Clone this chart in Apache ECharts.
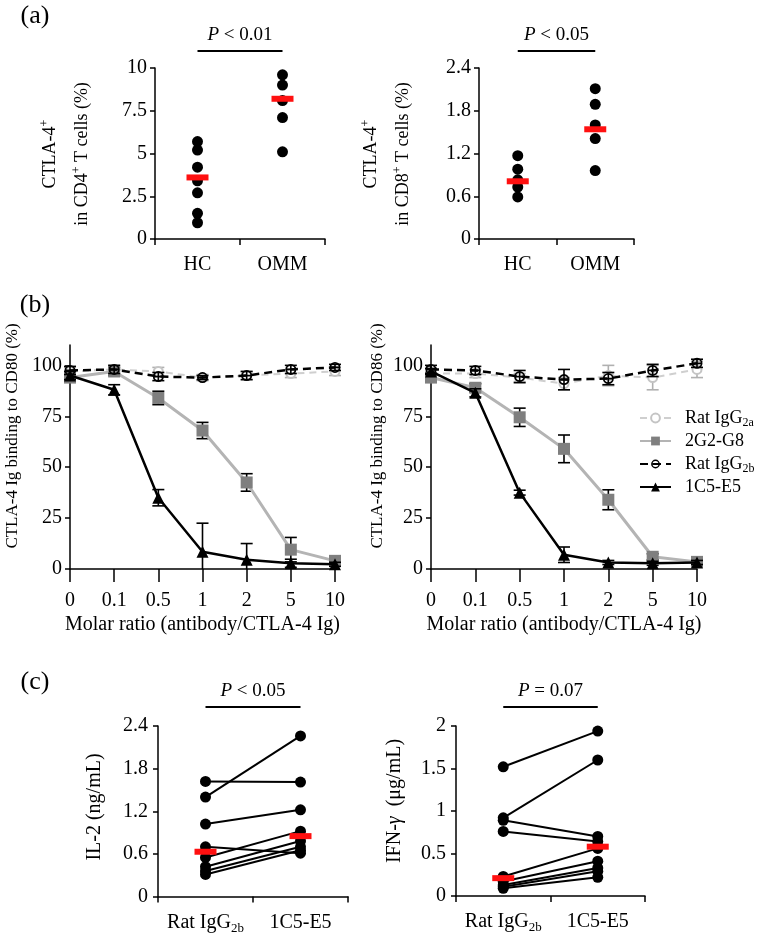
<!DOCTYPE html>
<html>
<head>
<meta charset="utf-8">
<script src="https://cdn.jsdelivr.net/npm/echarts@6/dist/echarts.min.js"></script>
<style>
  html, body { margin: 0; padding: 0; background: #fff; }
  #chart { width: 759px; height: 935px; }
</style>
</head>
<body>
<div id="chart"></div>
<script>
// (a) CTLA-4+ cells, healthy controls vs OMM
const groupsA = ["HC", "OMM"];
const cd4HC = [5.7, 5.2, 4.2, 3.4, 2.7, 1.5, 0.95];
const cd4OMM = [9.6, 9.0, 8.1, 7.1, 5.1];
const cd4Mean = [3.6, 8.2];
const cd8HC = [1.17, 0.98, 0.83, 0.73, 0.59];
const cd8OMM = [2.11, 1.89, 1.6, 1.41, 0.96];
const cd8Mean = [0.81, 1.54];
const ticksCD4 = [0, 2.5, 5, 7.5, 10];
const ticksCD8 = [0, 0.6, 1.2, 1.8, 2.4];

// (b) blocking of CTLA-4 Ig binding
const ratios = ["0", "0.1", "0.5", "1", "2", "5", "10"];
const ticksB = [0, 25, 50, 75, 100];
const ratA80 = [97, 98, 97, 94, 95, 96, 97];
const ratA80Err = [2, 2, 2, 1.5, 2, 2, 2];
const g2g8_80 = [94, 97, 84, 68, 42.5, 9.5, 4];
const g2g8_80Err = [1.5, 2, 3.3, 4, 4.3, 6, 1.5];
const ratB80 = [97.5, 98, 94.5, 94, 95, 98, 99];
const ratB80Err = [2, 2, 2, 1, 2, 2, 1.5];
const c5_80 = [95, 88, 35, 8.5, 4.5, 2.8, 2.3];
const c5_80Err = [2, 2.5, 4, 14, 8, 2, 1];
const ratA86 = [96, 96, 94, 91, 95, 94, 98];
const ratA86Err = [2, 2, 2, 3, 5, 6, 4];
const g2g8_86 = [94, 89, 74.5, 59, 34, 6, 3.5];
const g2g8_86Err = [1.5, 2, 4.5, 6.8, 4.9, 1.5, 1];
const ratB86 = [98, 97.5, 94.5, 93, 93.5, 97.5, 101];
const ratB86Err = [2, 2, 3, 5, 3, 3, 2];
const c5_86 = [97, 86.5, 37.5, 7, 3.2, 2.8, 3.2];
const c5_86Err = [1.5, 2, 1.2, 3.8, 1, 1, 1];

// (c) cytokines, paired samples
const groupsC = ["Rat IgG2b", "1C5-E5"];
const il2Rat = [1.62, 1.40, 1.02, 0.70, 0.55, 0.42, 0.36, 0.31];
const il2C5 = [1.61, 2.26, 1.22, 0.61, 0.92, 0.78, 0.70, 0.65];
const il2Mean = [0.63, 0.85];
const ifnRat = [1.52, 0.92, 0.89, 0.76, 0.23, 0.17, 0.13, 0.11, 0.09];
const ifnC5 = [1.94, 1.60, 0.70, 0.64, 0.56, 0.41, 0.33, 0.29, 0.22];
const ifnMean = [0.21, 0.58];
const ticksIL2 = [0, 0.6, 1.2, 1.8, 2.4];
const ticksIFN = [0, 0.5, 1, 1.5, 2];

const FONT = "'Times New Roman', 'Liberation Serif', 'DejaVu Serif', serif";
const RED = "#ff1010";

const grids = [
  { left: 155, top: 68, width: 170, height: 171 },
  { left: 479, top: 68, width: 155, height: 171 },
  { left: 70, top: 345, width: 265, height: 224 },
  { left: 431, top: 345, width: 266, height: 224 },
  { left: 158, top: 726, width: 190, height: 171 },
  { left: 456, top: 726, width: 189, height: 170 },
];

const blackLine = { color: "#000", width: 1.5 };
const subRich = {
  s: { fontFamily: FONT, fontSize: 13, padding: [12, 0, 0, 0], color: "#000" },
};
const subFmt = (v) => v.replace(/IgG2([ab])/, "IgG{s|2$1}");

function yValue(i, ticks, margin, extra) {
  return Object.assign({
    type: "value", gridIndex: i,
    min: ticks[0], max: ticks[ticks.length - 1], interval: ticks[1] - ticks[0],
    splitLine: { show: false },
    axisLine: { show: true, lineStyle: blackLine },
    axisTick: { show: true, length: 5, lineStyle: blackLine },
    axisLabel: { color: "#000", fontFamily: FONT, fontSize: 20, margin: margin },
  }, extra || {});
}

function xCat(i, cats, margin, extra) {
  return Object.assign({
    type: "category", gridIndex: i, data: cats,
    axisLine: { show: true, lineStyle: blackLine },
    axisTick: { show: true, length: 6, lineStyle: blackLine },
    axisLabel: {
      color: "#000", fontFamily: FONT, fontSize: 20, margin: margin, interval: 0,
      lineHeight: 24, formatter: subFmt, rich: subRich,
    },
  }, extra || {});
}

const bName = {
  boundaryGap: false,
  axisTick: { show: true, length: 13, lineStyle: blackLine },
  name: "Molar ratio (antibody/CTLA-4 Ig)", nameLocation: "middle", nameGap: 46,
  nameTextStyle: { color: "#000", fontFamily: FONT, fontSize: 20 },
};
const xAxes = [
  xCat(0, groupsA, 14),
  xCat(1, groupsA, 14),
  xCat(2, ratios, 20, bName),
  xCat(3, ratios, 20, bName),
  xCat(4, groupsC, 14),
  xCat(5, groupsC, 14),
];

const bY = {
  max: 110,
  axisLabel: { color: "#000", fontFamily: FONT, fontSize: 20, margin: 8, customValues: ticksB },
  axisTick: { show: true, length: 5, lineStyle: blackLine, customValues: ticksB },
};
const yAxes = [
  yValue(0, ticksCD4, 8),
  yValue(1, ticksCD8, 8),
  yValue(2, ticksB, 8, bY),
  yValue(3, ticksB, 8, bY),
  yValue(4, ticksIL2, 10),
  yValue(5, ticksIFN, 10),
];

const series = [];

function dots(g, idx, vals) {
  series.push({
    type: "scatter", xAxisIndex: g, yAxisIndex: g,
    data: vals.map((v) => [idx, v]),
    symbol: "circle", symbolSize: 11,
    itemStyle: { color: "#000", opacity: 1 }, z: 3,
  });
}
function meanBars(g, means) {
  series.push({
    type: "scatter", xAxisIndex: g, yAxisIndex: g,
    data: means.map((v, i) => [i, v]),
    symbol: "rect", symbolSize: [22, 6],
    itemStyle: { color: RED, opacity: 1 }, z: 6,
  });
}

// (a)
dots(0, 0, cd4HC); dots(0, 1, cd4OMM); meanBars(0, cd4Mean);
dots(1, 0, cd8HC); dots(1, 1, cd8OMM); meanBars(1, cd8Mean);

// (b)
const ringMinus = "path://M0,-5A5,5,0,1,1,0,5A5,5,0,1,1,0,-5ZM0,-3.4A3.4,3.4,0,1,0,0,3.4A3.4,3.4,0,1,0,0,-3.4ZM-3.4,-0.8L3.4,-0.8L3.4,0.8L-3.4,0.8Z";
const styles = {
  "Rat IgG2a": { symbol: "emptyCircle", symbolSize: 9, color: "#c4c4c4", line: { color: "#cfcfcf", width: 2, type: [7, 5] }, err: "#b0b0b0", z: 2 },
  "2G2-G8": { symbol: "rect", symbolSize: 12, color: "#7f7f7f", line: { color: "#b4b4b4", width: 3 }, err: "#000", z: 3 },
  "Rat IgG2b": { symbol: ringMinus, symbolSize: 11, color: "#000", line: { color: "#000", width: 2.5, type: [8, 5] }, err: "#000", z: 4 },
  "1C5-E5": { symbol: "triangle", symbolSize: 12, color: "#000", line: { color: "#000", width: 2.5 }, err: "#000", z: 5 },
};

// error bars are cut off at the x axis, as in the original figure
function errRender(color) {
  return function (params, api) {
    const x = api.value(0);
    const lo = api.value(1);
    const top = api.coord([x, api.value(2)]);
    const bot = api.coord([x, Math.max(lo, 0)]);
    const w = 6;
    const st = { stroke: color, lineWidth: 1.6 };
    const kids = [
      { type: "line", shape: { x1: top[0], y1: top[1], x2: bot[0], y2: bot[1] }, style: st },
      { type: "line", shape: { x1: top[0] - w, y1: top[1], x2: top[0] + w, y2: top[1] }, style: st },
    ];
    if (lo > 0) {
      kids.push({ type: "line", shape: { x1: bot[0] - w, y1: bot[1], x2: bot[0] + w, y2: bot[1] }, style: st });
    }
    return { type: "group", children: kids };
  };
}

function curve(g, name, vals, errs) {
  const s = styles[name];
  series.push({
    type: "line", name: name, xAxisIndex: g, yAxisIndex: g,
    data: vals, symbol: s.symbol, symbolSize: s.symbolSize, showAllSymbol: true,
    lineStyle: s.line, itemStyle: { color: s.color, borderWidth: 1.5 },
    z: s.z,
  });
  series.push({
    type: "custom", xAxisIndex: g, yAxisIndex: g,
    data: vals.map((v, i) => [i, v - errs[i], v + errs[i]]),
    encode: { x: 0, y: [1, 2] },
    renderItem: errRender(s.err), z: s.z,
  });
}

curve(2, "Rat IgG2a", ratA80, ratA80Err);
curve(2, "2G2-G8", g2g8_80, g2g8_80Err);
curve(2, "Rat IgG2b", ratB80, ratB80Err);
curve(2, "1C5-E5", c5_80, c5_80Err);
curve(3, "Rat IgG2a", ratA86, ratA86Err);
curve(3, "2G2-G8", g2g8_86, g2g8_86Err);
curve(3, "Rat IgG2b", ratB86, ratB86Err);
curve(3, "1C5-E5", c5_86, c5_86Err);

// (c)
function pairs(g, left, right, means) {
  left.forEach((v, i) => {
    series.push({
      type: "line", xAxisIndex: g, yAxisIndex: g,
      data: [[0, v], [1, right[i]]],
      symbol: "circle", symbolSize: 11,
      lineStyle: { color: "#000", width: 2 }, itemStyle: { color: "#000" }, z: 3,
    });
  });
  meanBars(g, means);
}
pairs(4, il2Rat, il2C5, il2Mean);
pairs(5, ifnRat, ifnC5, ifnMean);

const option = {
  animation: false,
  backgroundColor: "#fff",
  grid: grids,
  xAxis: xAxes,
  yAxis: yAxes,
  legend: {
    data: ["Rat IgG2a", "2G2-G8", "Rat IgG2b", "1C5-E5"],
    orient: "vertical", left: 634, top: 402,
    itemWidth: 31, itemHeight: 11, itemGap: 1,
    formatter: subFmt,
    textStyle: {
      color: "#000", fontFamily: FONT, fontSize: 18, lineHeight: 22, padding: [0, 0, 0, 9],
      rich: { s: { fontFamily: FONT, fontSize: 12, padding: [10, 0, 0, 0], color: "#000" } },
    },
    selectedMode: false,
  },
  series: series,
};

const chart = echarts.init(document.getElementById("chart"));
chart.setOption(option);

// text annotations and significance brackets
const supRich = { p: { fontFamily: FONT, fontSize: 12, padding: [0, 0, 10, 0], fill: "#000" } };
function label(x, y, text, size, rot, extra) {
  return {
    type: "text", x: x, y: y, rotation: rot || 0, silent: true,
    style: Object.assign({
      text: text, fontFamily: FONT, fontSize: size, fill: "#000",
      align: "center", verticalAlign: "middle", rich: supRich,
    }, extra || {}),
  };
}

const R = Math.PI / 2;
const graphics = [
  label(35, 16, "(a)", 26),
  label(35, 305, "(b)", 26),
  label(35, 682, "(c)", 26),
  label(66, 154, "CTLA-4{p|+}\nin CD4{p|+} T cells (%)", 18, R, { lineHeight: 32 }),
  label(387, 154, "CTLA-4{p|+}\nin CD8{p|+} T cells (%)", 18, R, { lineHeight: 32 }),
  label(13, 436, "CTLA-4 Ig binding to CD80 (%)", 17, R),
  label(378, 436, "CTLA-4 Ig binding to CD86 (%)", 17, R),
  label(95, 807, "IL-2 (ng/mL)", 20, R),
  label(395, 801, "IFN-{g|γ}  (μg/mL)", 20, R, { rich: { g: { fontFamily: FONT, fontSize: 20, fontStyle: "italic", fill: "#000" } } }),
];

const brackets = [
  { g: 0, text: "< 0.01" },
  { g: 1, text: "< 0.05" },
  { g: 4, text: "< 0.05" },
  { g: 5, text: "= 0.07" },
];
brackets.forEach((b) => {
  const top = yAxes[b.g].max;
  const p0 = chart.convertToPixel({ gridIndex: b.g }, [0, top]);
  const p1 = chart.convertToPixel({ gridIndex: b.g }, [1, top]);
  const lift = b.g >= 4 ? 19 : 17;
  graphics.push({
    type: "line", silent: true,
    shape: { x1: p0[0], y1: p0[1] - lift, x2: p1[0], y2: p0[1] - lift },
    style: { stroke: "#000", lineWidth: 2 },
  });
  graphics.push(label((p0[0] + p1[0]) / 2, p0[1] - lift - 16, "{i|P} " + b.text, 19, 0, {
    rich: { i: { fontFamily: FONT, fontSize: 19, fontStyle: "italic", fill: "#000" } },
  }));
});

chart.setOption({ graphic: graphics });
</script>
</body>
</html>
